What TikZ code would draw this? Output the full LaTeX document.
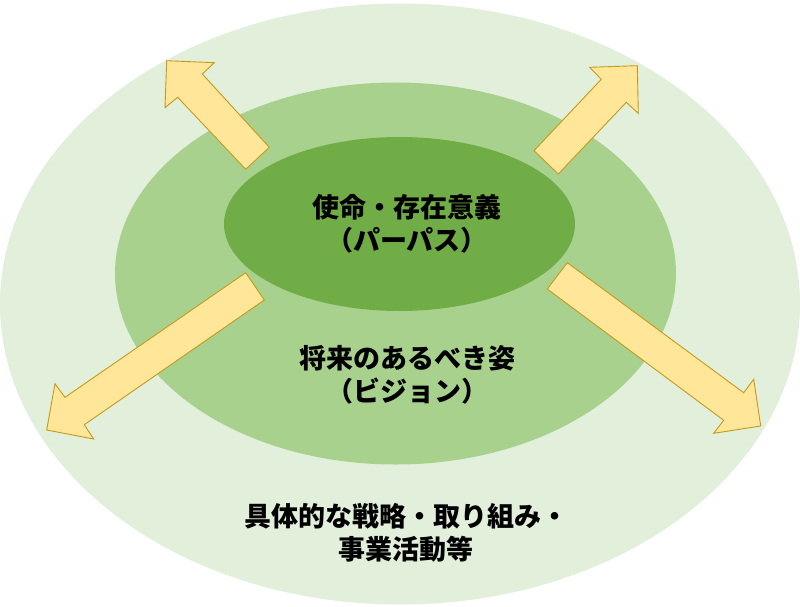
\documentclass[tikz,border=0pt]{standalone}
\usepackage{fontspec}
\newfontfamily\jp{Noto Sans CJK JP}
\usetikzlibrary{shapes.geometric}
\definecolor{outerG}{HTML}{E2EFDA}
\definecolor{midG}{HTML}{A9D18E}
\definecolor{innerG}{HTML}{70AD47}
\definecolor{arrFill}{HTML}{FFE699}
\definecolor{arrLine}{HTML}{C49A1C}
\tikzset{
  ring/.style={ellipse, draw=none, inner sep=0pt},
  blockarrow/.style={fill=arrFill, draw=arrLine, line width=0.9pt, line join=miter},
  label/.style={inner sep=0pt, align=center, font=\jp\bfseries\fontsize{27}{32.5}\selectfont, text=black}
}
\begin{document}
\begin{tikzpicture}[x=1pt,y=-1pt]
\useasboundingbox (0,0) rectangle (800,607);
\fill[white] (0,0) rectangle (800,607);
\node[ring, fill=outerG, minimum width=800pt, minimum height=601pt] (outer) at (400,304) {};
\node[ring, fill=midG, minimum width=561pt, minimum height=382pt] (middle) at (395.5,273.5) {};
\node[ring, fill=innerG, minimum width=351pt, minimum height=174pt] (inner) at (399.5,224) {};
% upper-left arrow
\draw[blockarrow] (166.7,60.7) -- (214.3,62.7) -- (202.3,74) -- (269.3,147.3) -- (245.7,169.3) -- (177.7,97.3) -- (165,107.7) -- cycle;
% upper-right arrow
\draw[blockarrow] (637.3,65.7) -- (638.3,113.3) -- (626.3,102.3) -- (558.3,174) -- (534,150.7) -- (601.3,79.3) -- (589.7,67.3) -- cycle;
% lower-right arrow
\draw[blockarrow] (567.3,262.7) -- (743.7,392.7) -- (753.7,379.3) -- (760.7,426) -- (713.7,433.3) -- (723.7,420.3) -- (547.3,289) -- cycle;
% lower-left arrow
\draw[blockarrow] (245.7,272.7) -- (264.3,300) -- (84.3,424.7) -- (93.7,439) -- (46.7,430) -- (55,383.7) -- (65,397.3) -- cycle;
\node[label] (purpose) at (407,224) {使命・存在意義\\（パーパス）};
\node[label] (vision) at (407,375) {将来のあるべき姿\\（ビジョン）};
\node[label] (action) at (406,533) {具体的な戦略・取り組み・\\事業活動等};
\end{tikzpicture}
\end{document}
